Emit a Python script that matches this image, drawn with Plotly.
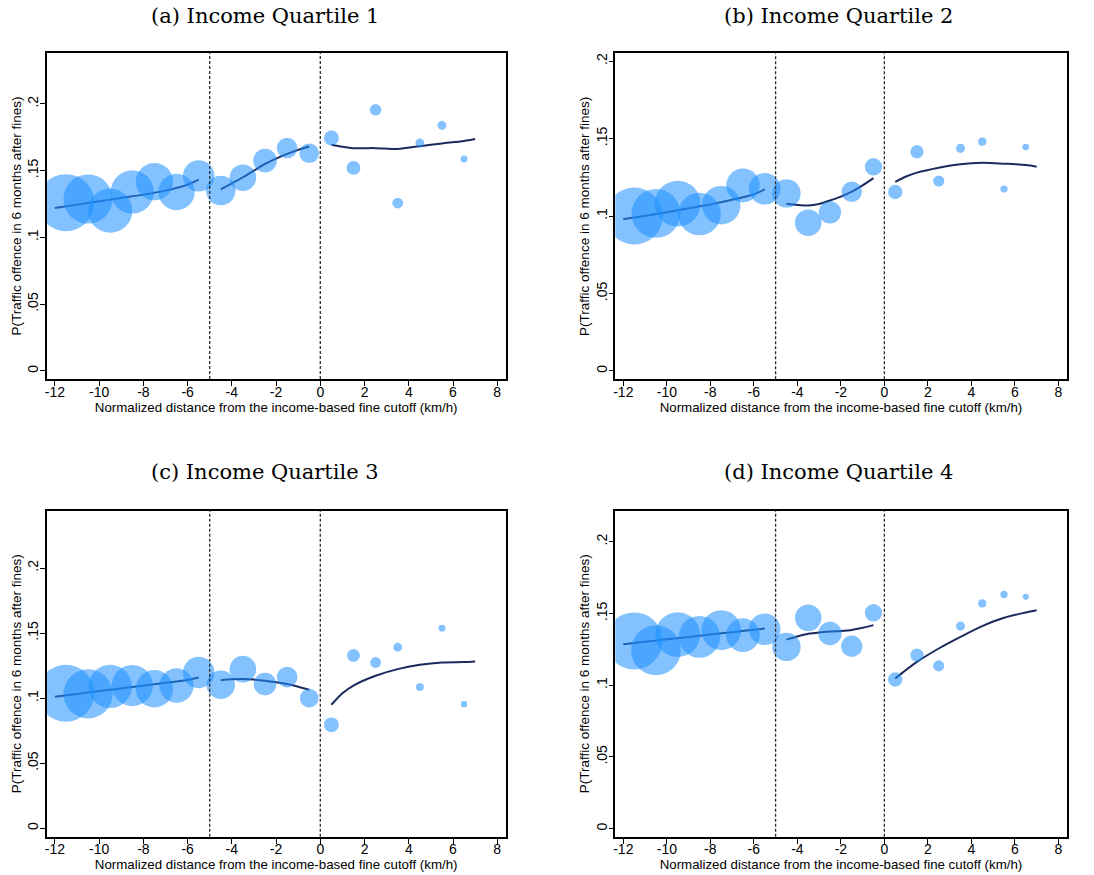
import plotly.graph_objects as go

# ---------------- data ----------------
bin_x = [-11.5, -10.5, -9.5, -8.5, -7.5, -6.5, -5.5, -4.5, -3.5, -2.5, -1.5, -0.5,
         0.5, 1.5, 2.5, 3.5, 4.5, 5.5, 6.5]

q1_y = [0.126, 0.1287, 0.120, 0.134, 0.1417, 0.134, 0.146, 0.135, 0.1447, 0.1574, 0.1669, 0.163,
        0.1744, 0.152, 0.1955, 0.1257, 0.1708, 0.1838, 0.1586]
q2_y = [0.100, 0.1017, 0.108, 0.1013, 0.107, 0.1198, 0.1176, 0.1146, 0.0957, 0.1024, 0.1157, 0.1318,
        0.1155, 0.1415, 0.1226, 0.1437, 0.148, 0.1174, 0.1445]
q3_y = [0.1038, 0.1033, 0.109, 0.1097, 0.1072, 0.1097, 0.1197, 0.1103, 0.1223, 0.1108, 0.1162, 0.100,
        0.0795, 0.1328, 0.1274, 0.1392, 0.1085, 0.1538, 0.0954]
q4_y = [0.1309, 0.1244, 0.1353, 0.1337, 0.1384, 0.1349, 0.139, 0.1267, 0.147, 0.136, 0.1272, 0.1505,
        0.104, 0.121, 0.1135, 0.1412, 0.157, 0.1633, 0.1616]

# number of observations per bin (relative weights -> bubble area)
q1_n = [33.6, 25.0, 20.3, 19.4, 14.4, 13.7, 10.2, 9.0, 7.3, 5.8, 4.4, 4.0, 2.3, 2.0, 1.4, 1.2, 0.8, 0.8, 0.5]
q2_n = [31.4, 23.0, 20.3, 17.6, 14.4, 10.9, 9.6, 7.8, 6.8, 4.8, 4.0, 2.9, 2.0, 1.7, 1.2, 0.8, 0.65, 0.5, 0.42]
q3_n = [33.6, 25.0, 19.4, 17.6, 14.4, 12.2, 10.2, 8.4, 7.3, 5.3, 4.4, 3.6, 2.3, 1.7, 1.2, 0.8, 0.65, 0.5, 0.42]
q4_n = [31.4, 24.0, 19.4, 16.8, 15.2, 10.9, 9.6, 7.8, 6.8, 5.3, 4.4, 2.9, 2.0, 1.7, 1.2, 0.8, 0.65, 0.5, 0.36]

# fitted local-polynomial lines, three segments per panel
seg1_x = [-12, -11, -10, -9, -8, -7, -6, -5.5]
seg2_x = [-4.5, -4, -3.5, -3, -2.5, -2, -1.5, -1, -0.5]
seg3_x = [0.5, 1, 1.5, 2.5, 3.5, 4.5, 5.5, 6.5, 7]

q1_fit1 = [0.122, 0.1245, 0.127, 0.1295, 0.132, 0.135, 0.1395, 0.1432]
q1_fit2 = [0.136, 0.1405, 0.145, 0.150, 0.155, 0.159, 0.1625, 0.1655, 0.168]
q1_fit3 = [0.1693, 0.1678, 0.1668, 0.1668, 0.1662, 0.1683, 0.1703, 0.1722, 0.1736]

q2_fit1 = [0.098, 0.100, 0.1025, 0.105, 0.1075, 0.1105, 0.114, 0.1172]
q2_fit2 = [0.108, 0.1072, 0.1068, 0.1078, 0.110, 0.1125, 0.1157, 0.1198, 0.1245]
q2_fit3 = [0.1221, 0.1255, 0.128, 0.1312, 0.1335, 0.1344, 0.1338, 0.1329, 0.1318]

q3_fit1 = [0.101, 0.1032, 0.1055, 0.1075, 0.1095, 0.1118, 0.114, 0.1159]
q3_fit2 = [0.1138, 0.1145, 0.1147, 0.1143, 0.1133, 0.1122, 0.1108, 0.1088, 0.1064]
q3_fit3 = [0.0949, 0.1038, 0.1097, 0.1172, 0.1223, 0.1256, 0.1274, 0.1277, 0.1282]

q4_fit1 = [0.1286, 0.1303, 0.132, 0.1336, 0.1353, 0.137, 0.1386, 0.1395]
q4_fit2 = [0.1318, 0.134, 0.1358, 0.1368, 0.1374, 0.1378, 0.1385, 0.140, 0.1419]
q4_fit3 = [0.1047, 0.1107, 0.1163, 0.1256, 0.1337, 0.1412, 0.147, 0.1507, 0.1523]

titles = ["(a) Income Quartile 1", "(b) Income Quartile 2",
          "(c) Income Quartile 3", "(d) Income Quartile 4"]
cutoffs = [-5, 0]
x_ticks = [-12, -10, -8, -6, -4, -2, 0, 2, 4, 6, 8]
x_tick_labels = ["-12", "-10", "-8", "-6", "-4", "-2", "0", "2", "4", "6", "8"]
y_ticks = [0, 0.05, 0.1, 0.15, 0.2]
y_tick_labels = ["0", ".05", ".1", ".15", ".2"]
x_title = "Normalized distance from the income-based fine cutoff (km/h)"
y_title = "P(Traffic offence in 6 months after fines)"

# ---------------- styling / layout ----------------
panels = [
    dict(y=q1_y, n=q1_n, fits=[q1_fit1, q1_fit2, q1_fit3], xd=[0.0427, 0.4622], yd=[0.5669, 0.9394], yr=[-0.006, 0.238]),
    dict(y=q2_y, n=q2_n, fits=[q2_fit1, q2_fit2, q2_fit3], xd=[0.5624, 0.9750], yd=[0.5665, 0.9390], yr=[-0.0054, 0.205]),
    dict(y=q3_y, n=q3_n, fits=[q3_fit1, q3_fit2, q3_fit3], xd=[0.0427, 0.4622], yd=[0.0437, 0.4163], yr=[-0.0065, 0.244]),
    dict(y=q4_y, n=q4_n, fits=[q4_fit1, q4_fit2, q4_fit3], xd=[0.5624, 0.9750], yd=[0.0437, 0.4163], yr=[-0.0056, 0.2216]),
]
title_pos = [(0.2422, 0.9817), (0.766, 0.9817), (0.2422, 0.4606), (0.766, 0.4606)]

fig = go.Figure()
layout = dict(width=1094, height=875, margin=dict(l=0, r=0, t=0, b=0, autoexpand=False),
              paper_bgcolor="white", plot_bgcolor="white", showlegend=False,
              font=dict(family="Liberation Sans, Arial", color="black"))
shapes = []
annotations = []
max_diam = 57.0
line_color = "#1b2b5e"
sans = "Liberation Sans, Arial"

for i, p in enumerate(panels):
    k = "" if i == 0 else str(i + 1)
    xa, ya = "x" + k, "y" + k
    segx = [seg1_x, seg2_x, seg3_x]
    for sx, sy in zip(segx, p["fits"]):
        fig.add_trace(go.Scatter(x=sx, y=sy, mode="lines", xaxis=xa, yaxis=ya,
                                 line=dict(color=line_color, width=2, shape="spline", smoothing=0.8),
                                 hoverinfo="skip"))
    sizeref = 2.0 * max(p["n"]) / max_diam ** 2
    fig.add_trace(go.Scatter(x=bin_x, y=p["y"], mode="markers", xaxis=xa, yaxis=ya,
                             marker=dict(size=p["n"], sizemode="area", sizeref=sizeref,
                                         color="rgb(30,144,255)", opacity=0.55,
                                         line=dict(width=0))))
    common_axis = dict(showline=True, linecolor="black", linewidth=1.5, mirror=True,
                       ticks="outside", ticklen=5, tickwidth=1, tickcolor="black",
                       showgrid=False, zeroline=False, automargin=False,
                       tickfont=dict(size=14, family=sans))
    layout["xaxis" + k] = dict(common_axis, domain=p["xd"], range=[-12.37, 8.38],
                               tickvals=x_ticks, ticktext=x_tick_labels, anchor=ya,
                               ticklabelstandoff=-6,
                               title=dict(text=x_title, standoff=0,
                                          font=dict(size=13.3, family=sans)))
    layout["yaxis" + k] = dict(common_axis, domain=p["yd"], range=p["yr"],
                               tickvals=y_ticks, ticktext=y_tick_labels, tickangle=-90,
                               anchor=xa, ticklabelstandoff=-4,
                               title=dict(text=y_title, standoff=1,
                                          font=dict(size=13.5, family=sans)))
    for c in cutoffs:
        shapes.append(dict(type="line", xref=xa, yref=ya + " domain", x0=c, x1=c, y0=0, y1=1,
                           line=dict(color="#2a2a2a", width=1.3, dash="3px,2px")))
    tx, ty = title_pos[i]
    annotations.append(dict(text=titles[i], xref="paper", yref="paper", x=tx, y=ty,
                            xanchor="center", yanchor="middle", showarrow=False,
                            font=dict(family="DejaVu Serif, serif", size=21, color="black")))

layout["shapes"] = shapes
layout["annotations"] = annotations
fig.update_layout(**layout)
fig.write_html("out.html", config={"displayModeBar": False},
               post_script="document.body.style.margin='0px';")
